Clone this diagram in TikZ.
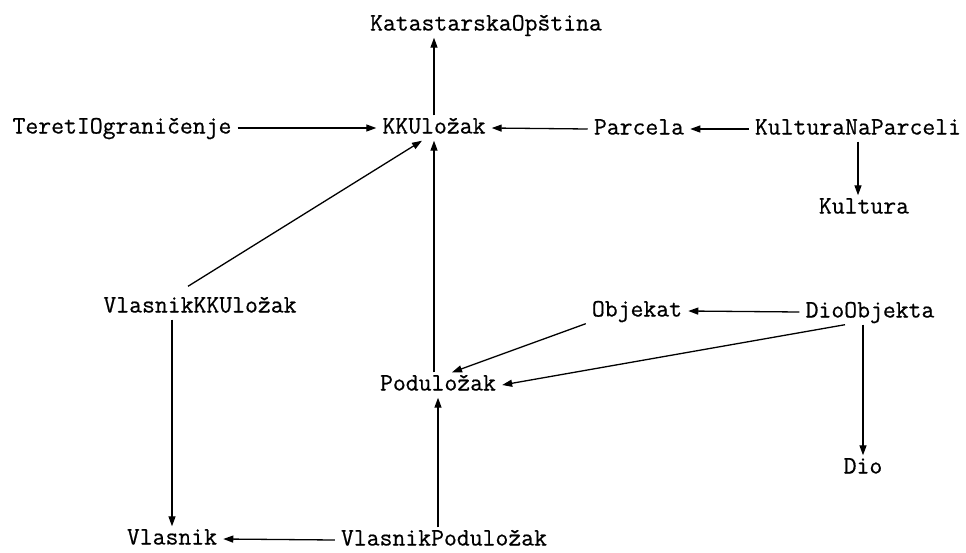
\documentclass[tikz,border=0pt]{standalone}
\usepackage{fontspec}
\newfontfamily\entfont[FakeBold=0.6]{Latin Modern Mono}
\usetikzlibrary{arrows.meta}
\begin{document}
\begin{tikzpicture}[x=1pt,y=-1pt,
  ent/.style={font=\entfont\fontsize{25}{28}\selectfont, inner xsep=6pt, inner ysep=4pt, text height=14pt, text depth=3pt},
  rel/.style={line width=1.3pt, -{Triangle[length=10pt,width=7pt]}}]
\useasboundingbox (0,0) rectangle (966,552);
\node[ent] (kat) at (486,25) {KatastarskaOpština};
\node[ent] (ter) at (122,128) {TeretIOgraničenje};
\node[ent] (kku) at (434,128) {KKUložak};
\node[ent] (par) at (639,129) {Parcela};
\node[ent] (knp) at (858,129) {KulturaNaParceli};
\node[ent] (kul) at (864,208) {Kultura};
\node[ent] (vkk) at (200,307) {VlasnikKKUložak};
\node[ent] (obj) at (637,311) {Objekat};
\node[ent] (dob) at (870,312) {DioObjekta};
\node[ent] (pod) at (438,385) {Poduložak};
\node[ent] (dio) at (863,468) {Dio};
\node[ent] (vl) at (172,539) {Vlasnik};
\node[ent] (vp) at (444,540) {VlasnikPoduložak};

\draw[rel] (kku.north) -- (kku.north |- kat.south);
\draw[rel] (ter.east) -- (kku.west);
\draw[rel] (par.west) -- (kku.east);
\draw[rel] (knp.west) -- (par.east);
\draw[rel] (knp.south) -- (knp.south |- kul.north);
\draw[rel] ([xshift=-12pt,yshift=8pt]vkk.north) -- ([xshift=-12pt]kku.south);
\draw[rel] (pod.north -| kku.south) -- (kku.south);
\draw[rel] (obj.south west) -- ([xshift=14pt]pod.north);
\draw[rel] (dob.west) -- (obj.east);
\draw[rel] ([xshift=-25pt]dob.south) -- (pod.east);
\draw[rel] (dio.north |- dob.south) -- (dio.north);
\draw[rel] (vl.north |- vkk.south) -- (vl.north);
\draw[rel] (pod.south |- vp.north) -- (pod.south);
\draw[rel] (vp.west) -- (vl.east);
\end{tikzpicture}
\end{document}
